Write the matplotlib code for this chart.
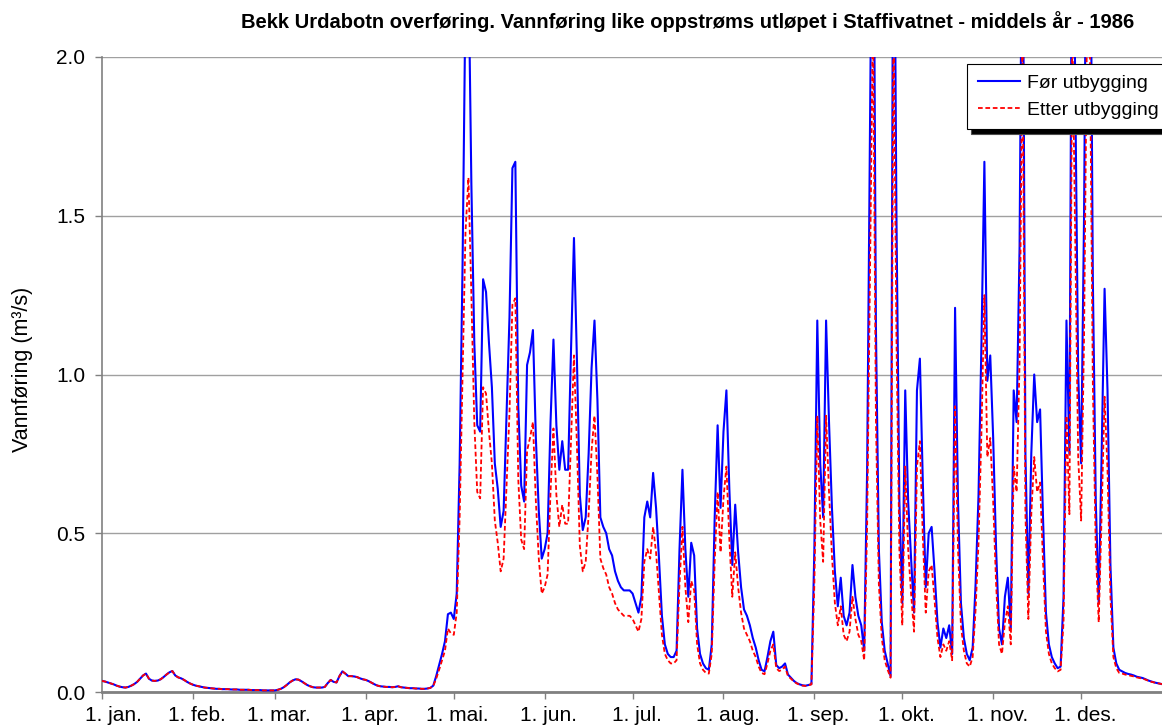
import numpy as np
import matplotlib
matplotlib.use("Agg")
import matplotlib.pyplot as plt
from matplotlib.transforms import ScaledTranslation

plt.rcParams['font.family'] = ['Liberation Sans', 'DejaVu Sans']

# Daily discharge (m3/s), one list per month
for_jan = [0.035, 0.033, 0.030, 0.027, 0.024, 0.020, 0.017, 0.015, 0.014, 0.016,
           0.020, 0.025, 0.032, 0.042, 0.052, 0.058, 0.042, 0.036, 0.035, 0.036,
           0.040, 0.047, 0.055, 0.062, 0.066, 0.052, 0.046, 0.043, 0.038, 0.032, 0.027]
for_feb = [0.023, 0.020, 0.018, 0.016, 0.014, 0.013, 0.012, 0.011, 0.010, 0.010,
           0.009, 0.009, 0.009, 0.008, 0.008, 0.008, 0.007, 0.007, 0.007, 0.007,
           0.006, 0.006, 0.006, 0.006, 0.005, 0.005, 0.005, 0.005]
for_mar = [0.005, 0.007, 0.010, 0.015, 0.022, 0.030, 0.036, 0.040, 0.039, 0.034,
           0.028, 0.022, 0.018, 0.015, 0.014, 0.014, 0.014, 0.016, 0.028, 0.038,
           0.032, 0.030, 0.050, 0.065, 0.058, 0.050, 0.050, 0.049, 0.047, 0.043, 0.040]
for_apr = [0.038, 0.034, 0.029, 0.024, 0.020, 0.018, 0.017, 0.016, 0.016, 0.015,
           0.016, 0.018, 0.015, 0.014, 0.013, 0.012, 0.012, 0.011, 0.011, 0.010,
           0.010, 0.011, 0.013, 0.020, 0.050, 0.085, 0.120, 0.160, 0.245, 0.250]
for_mai = [0.23, 0.31, 0.72, 1.35, 2.20, 2.30, 1.60, 1.10, 0.84, 0.82,
           1.30, 1.26, 1.10, 0.96, 0.72, 0.64, 0.52, 0.57, 0.88, 1.18,
           1.65, 1.67, 0.90, 0.65, 0.60, 1.03, 1.07, 1.14, 0.80, 0.57, 0.42]
for_jun = [0.45, 0.50, 0.85, 1.11, 0.84, 0.70, 0.79, 0.70, 0.70, 1.08,
           1.43, 1.05, 0.62, 0.51, 0.55, 0.75, 1.02, 1.17, 0.92, 0.55,
           0.52, 0.50, 0.45, 0.43, 0.38, 0.35, 0.33, 0.32, 0.32, 0.32]
for_jul = [0.31, 0.28, 0.25, 0.30, 0.55, 0.60, 0.55, 0.69, 0.58, 0.42,
           0.24, 0.15, 0.12, 0.11, 0.11, 0.13, 0.45, 0.70, 0.45, 0.30,
           0.47, 0.43, 0.20, 0.12, 0.09, 0.075, 0.07, 0.15, 0.55, 0.84, 0.58]
for_aug = [0.82, 0.95, 0.64, 0.40, 0.59, 0.44, 0.33, 0.26, 0.24, 0.21,
           0.17, 0.14, 0.10, 0.07, 0.065, 0.11, 0.16, 0.19, 0.085, 0.075,
           0.08, 0.09, 0.055, 0.045, 0.035, 0.028, 0.024, 0.021, 0.020, 0.022, 0.025]
for_sep = [0.45, 1.17, 0.72, 0.55, 1.17, 0.85, 0.58, 0.38, 0.27, 0.36,
           0.24, 0.21, 0.25, 0.40, 0.30, 0.24, 0.21, 0.13, 0.70, 1.80,
           2.90, 1.15, 0.45, 0.22, 0.13, 0.09, 0.05, 2.90, 1.50, 0.60]
for_okt = [0.28, 0.95, 0.60, 0.42, 0.25, 0.95, 1.05, 0.66, 0.33, 0.50,
           0.52, 0.38, 0.22, 0.14, 0.20, 0.17, 0.21, 0.12, 1.21, 0.60,
           0.28, 0.17, 0.12, 0.10, 0.14, 0.34, 0.62, 1.10, 1.67, 0.98, 1.06]
for_nov = [0.80, 0.45, 0.20, 0.15, 0.30, 0.36, 0.20, 0.95, 0.85, 1.40,
           2.70, 0.75, 0.31, 0.75, 1.00, 0.85, 0.89, 0.55, 0.25, 0.15,
           0.11, 0.09, 0.075, 0.08, 0.30, 1.17, 0.75, 2.80, 1.90, 1.00]
for_des = [0.72, 1.50, 2.80, 2.70, 1.30, 0.60, 0.28, 0.75, 1.27, 0.95,
           0.40, 0.14, 0.09, 0.07, 0.065, 0.06, 0.057, 0.055, 0.052, 0.048,
           0.046, 0.044, 0.040, 0.036, 0.033, 0.030, 0.028, 0.026, 0.024, 0.022, 0.020]

etter_jan = [0.035, 0.033, 0.030, 0.027, 0.024, 0.020, 0.017, 0.015, 0.014, 0.016,
             0.020, 0.025, 0.032, 0.042, 0.052, 0.058, 0.042, 0.036, 0.035, 0.036,
             0.040, 0.047, 0.055, 0.062, 0.066, 0.052, 0.046, 0.043, 0.038, 0.032, 0.027]
etter_feb = [0.023, 0.020, 0.018, 0.016, 0.014, 0.013, 0.012, 0.011, 0.010, 0.010,
             0.009, 0.009, 0.009, 0.008, 0.008, 0.008, 0.007, 0.007, 0.007, 0.007,
             0.006, 0.006, 0.006, 0.006, 0.005, 0.005, 0.005, 0.005]
etter_mar = [0.005, 0.007, 0.010, 0.015, 0.022, 0.030, 0.036, 0.040, 0.039, 0.034,
             0.028, 0.022, 0.018, 0.015, 0.014, 0.014, 0.014, 0.016, 0.028, 0.038,
             0.032, 0.030, 0.050, 0.065, 0.058, 0.050, 0.050, 0.049, 0.047, 0.043, 0.040]
etter_apr = [0.038, 0.034, 0.029, 0.024, 0.020, 0.018, 0.017, 0.016, 0.016, 0.015,
             0.016, 0.018, 0.015, 0.014, 0.013, 0.012, 0.012, 0.011, 0.011, 0.010,
             0.010, 0.011, 0.013, 0.019, 0.042, 0.070, 0.100, 0.130, 0.200, 0.185]
etter_mai = [0.18, 0.25, 0.55, 1.00, 1.45, 1.62, 1.25, 0.85, 0.63, 0.61,
             0.96, 0.94, 0.82, 0.72, 0.54, 0.47, 0.38, 0.42, 0.65, 0.88,
             1.22, 1.24, 0.67, 0.48, 0.45, 0.76, 0.80, 0.85, 0.60, 0.42, 0.31]
etter_jun = [0.33, 0.37, 0.63, 0.83, 0.62, 0.52, 0.59, 0.53, 0.53, 0.80,
             1.06, 0.78, 0.46, 0.38, 0.41, 0.56, 0.76, 0.87, 0.68, 0.42,
             0.39, 0.37, 0.33, 0.31, 0.28, 0.26, 0.25, 0.24, 0.24, 0.24]
etter_jul = [0.23, 0.21, 0.19, 0.23, 0.41, 0.45, 0.42, 0.52, 0.44, 0.31,
             0.18, 0.12, 0.10, 0.09, 0.09, 0.10, 0.34, 0.52, 0.33, 0.22,
             0.35, 0.32, 0.15, 0.09, 0.07, 0.06, 0.058, 0.12, 0.41, 0.63, 0.44]
etter_aug = [0.61, 0.71, 0.48, 0.30, 0.44, 0.33, 0.25, 0.20, 0.18, 0.16,
             0.13, 0.11, 0.08, 0.06, 0.056, 0.09, 0.13, 0.15, 0.075, 0.066,
             0.07, 0.08, 0.05, 0.042, 0.033, 0.027, 0.023, 0.020, 0.019, 0.021, 0.024]
etter_sep = [0.34, 0.87, 0.54, 0.41, 0.87, 0.63, 0.43, 0.28, 0.21, 0.27,
             0.18, 0.16, 0.19, 0.30, 0.23, 0.18, 0.16, 0.10, 0.52, 1.34,
             2.15, 0.86, 0.34, 0.17, 0.10, 0.07, 0.045, 2.15, 1.12, 0.45]
etter_okt = [0.21, 0.71, 0.45, 0.31, 0.19, 0.71, 0.79, 0.49, 0.25, 0.38,
             0.40, 0.29, 0.17, 0.11, 0.15, 0.13, 0.16, 0.10, 0.90, 0.45,
             0.21, 0.13, 0.09, 0.08, 0.11, 0.26, 0.47, 0.82, 1.25, 0.74, 0.80]
etter_nov = [0.60, 0.34, 0.15, 0.12, 0.22, 0.27, 0.15, 0.71, 0.63, 1.04,
             2.10, 0.56, 0.23, 0.56, 0.74, 0.63, 0.66, 0.41, 0.19, 0.12,
             0.09, 0.075, 0.065, 0.07, 0.22, 0.87, 0.56, 2.10, 1.42, 0.74]
etter_des = [0.54, 1.12, 2.10, 2.02, 0.97, 0.45, 0.22, 0.56, 0.93, 0.70,
             0.30, 0.11, 0.075, 0.06, 0.058, 0.055, 0.053, 0.051, 0.049, 0.046,
             0.044, 0.042, 0.039, 0.035, 0.032, 0.030, 0.028, 0.026, 0.024, 0.022, 0.020]

month_labels = ['1. jan.', '1. feb.', '1. mar.', '1. apr.', '1. mai.', '1. jun.',
                '1. jul.', '1. aug.', '1. sep.', '1. okt.', '1. nov.', '1. des.']
month_start_day = [0, 31, 59, 90, 120, 151, 181, 212, 243, 273, 304, 334]
y_ticks = [0.0, 0.5, 1.0, 1.5, 2.0]

for_utbygging = np.concatenate([for_jan, for_feb, for_mar, for_apr, for_mai, for_jun,
                                for_jul, for_aug, for_sep, for_okt, for_nov, for_des])
etter_utbygging = np.concatenate([etter_jan, etter_feb, etter_mar, etter_apr, etter_mai,
                                  etter_jun, etter_jul, etter_aug, etter_sep, etter_okt,
                                  etter_nov, etter_des])
days = np.arange(len(for_utbygging))

W, H = 1162, 728
fig = plt.figure(figsize=(W / 100, H / 100), dpi=100)
ax_left, ax_right, ax_top, ax_bottom = 102, 1172, 57, 692
ax = fig.add_axes([ax_left / W, 1 - ax_bottom / H,
                   (ax_right - ax_left) / W, (ax_bottom - ax_top) / H])

ax.plot(days, for_utbygging, color='#0000FF', lw=1.5, label='Før utbygging',
        solid_joinstyle='round', zorder=3)
ax.plot(days, etter_utbygging, color='#FF0000', lw=1.3, label='Etter utbygging',
        linestyle=(0, (2.6, 1.5)), zorder=4)

ax.set_xlim(0, 365)
ax.set_ylim(0, 2.0)
ax.set_yticks(y_ticks)
ax.set_yticklabels([f'{v:.1f}' for v in y_ticks])
ax.set_xticks(month_start_day)
ax.set_xticklabels(month_labels)
ax.tick_params(axis='both', direction='out', length=5, width=1, color='#808080',
               labelsize=15, labelcolor='black')
ax.tick_params(axis='x', pad=5)
ax.tick_params(axis='y', pad=7)

# month labels sit a little right of their tick marks; the first one more so
for i, lab in enumerate(ax.get_xticklabels()):
    dx = 11 if i == 0 else 4
    lab.set_transform(lab.get_transform() + ScaledTranslation(dx / 100, 0, fig.dpi_scale_trans))

ax.grid(axis='y', color='#A0A0A0', lw=1.0)
ax.set_axisbelow(True)
for side in ('top', 'right'):
    ax.spines[side].set_visible(False)
ax.spines['left'].set_color('#808080')
ax.spines['left'].set_linewidth(1.2)
ax.spines['bottom'].set_color('#808080')
ax.spines['bottom'].set_linewidth(2.0)

fig.text(688 / W, 1 - 22 / H,
         'Bekk Urdabotn overføring. Vannføring like oppstrøms utløpet i Staffivatnet - middels år - 1986',
         ha='center', va='center', fontsize=14.5, fontweight='bold')
fig.text(23 / W, 1 - 369 / H, 'Vannføring (m³/s)', rotation=90,
         ha='center', va='center', fontsize=15.5)

leg = ax.legend(loc='upper left', bbox_to_anchor=(967 / W, 1 - 64 / H),
                bbox_transform=fig.transFigure, fontsize=14, frameon=True,
                fancybox=False, framealpha=1, edgecolor='black',
                handlelength=2.2, handletextpad=0.35, borderpad=0.55,
                labelspacing=0.45, borderaxespad=0,
                shadow={'ox': 3, 'oy': -3, 'facecolor': 'black', 'alpha': 1.0})
leg.get_frame().set_linewidth(0.8)

fig.savefig('out.png', dpi=100)
